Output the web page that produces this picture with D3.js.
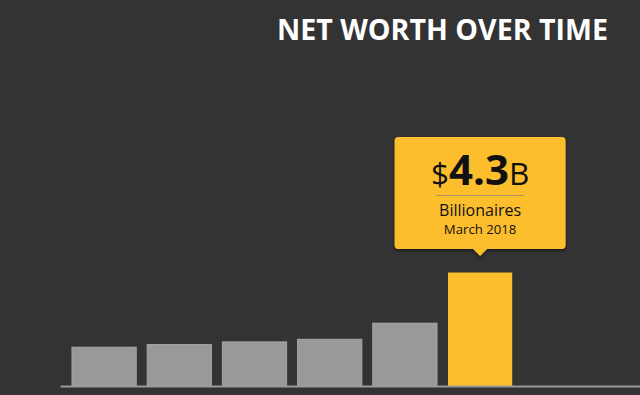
<!DOCTYPE html>
<html lang="en">
<head>
    <meta charset="UTF-8">
    <title>Net worth over time</title>
    <script src="https://d3js.org/d3.v7.min.js"></script>
    <style>
        html, body { margin: 0; padding: 0; background: #333333; }
        svg { display: block; font-family: "Open Sans", "DejaVu Sans", sans-serif; }
    </style>
</head>
<body>
<svg id="main" width="640" height="395" viewBox="0 0 640 395"></svg>
<script>
    // data (billions of dollars)
    const periods = ['2013', '2014', '2015', '2016', '2017', 'March 2018'];
    const netWorth = [1.47, 1.57, 1.67, 1.77, 2.38, 4.3];
    const highlight = 'March 2018';
    const calloutValue = '4.3';
    const calloutLabel = 'Billionaires';
    const calloutDate = 'March 2018';

    const yellow = '#fdbe2e';
    const grey = '#999999';

    let svg = d3.select('svg#main');

    // shadow for the callout
    svg.append('defs').append('filter')
        .attr('id', 'shadow')
        .attr('x', '-10%').attr('y', '-10%').attr('width', '120%').attr('height', '130%')
        .append('feDropShadow')
        .attr('dx', 0).attr('dy', 1.5)
        .attr('stdDeviation', 1.5)
        .attr('flood-color', '#000')
        .attr('flood-opacity', 0.55);

    svg.append('text')
        .attr('x', 608)
        .attr('y', 39.5)
        .attr('text-anchor', 'end')
        .attr('fill', '#ffffff')
        .attr('font-size', 28.6)
        .attr('font-weight', 700)
        .text('NET WORTH OVER TIME');

    // scales
    let xScale = d3.scaleBand()
        .domain(periods)
        .range([66.5, 517.7])
        .paddingInner(0.146)
        .paddingOuter(0.073);
    let yScale = d3.scaleLinear()
        .domain([0, 4.3])
        .range([386, 272.5]);

    let rows = periods.map((p, i) => ({period: p, value: netWorth[i]}));

    svg.append('g')
        .selectAll('rect')
        .data(rows)
        .enter()
        .append('rect')
        .attr('x', d => xScale(d.period))
        .attr('y', d => yScale(d.value))
        .attr('width', xScale.bandwidth())
        .attr('height', d => yScale(0) - yScale(d.value))
        .attr('fill', d => d.period === highlight ? yellow : grey)
        .attr('stroke', d => d.period === highlight ? 'none' : '#a8a8a8')
        .attr('stroke-width', 1);

    // baseline
    svg.append('line')
        .attr('x1', 60.5).attr('x2', 640)
        .attr('y1', yScale(0) + 0.5).attr('y2', yScale(0) + 0.5)
        .attr('stroke', '#9a9a9a')
        .attr('stroke-width', 2);

    // callout above the highlighted bar
    let hv = netWorth[periods.indexOf(highlight)];
    let cx = xScale(highlight) + xScale.bandwidth() / 2;
    let boxBottom = yScale(hv) - 23.5;
    let w = 171, h = 112, r = 4, tip = 7;
    let boxLeft = cx - w / 2, boxTop = boxBottom - h;

    let p = d3.path();
    p.moveTo(boxLeft + r, boxTop);
    p.lineTo(boxLeft + w - r, boxTop);
    p.arcTo(boxLeft + w, boxTop, boxLeft + w, boxTop + r, r);
    p.lineTo(boxLeft + w, boxBottom - r);
    p.arcTo(boxLeft + w, boxBottom, boxLeft + w - r, boxBottom, r);
    p.lineTo(cx + tip, boxBottom);
    p.lineTo(cx, boxBottom + tip);
    p.lineTo(cx - tip, boxBottom);
    p.lineTo(boxLeft + r, boxBottom);
    p.arcTo(boxLeft, boxBottom, boxLeft, boxBottom - r, r);
    p.lineTo(boxLeft, boxTop + r);
    p.arcTo(boxLeft, boxTop, boxLeft + r, boxTop, r);
    p.closePath();

    let callout = svg.append('g');
    callout.append('path')
        .attr('d', p.toString())
        .attr('fill', yellow)
        .attr('filter', 'url(#shadow)');

    let big = callout.append('text')
        .attr('x', cx)
        .attr('y', boxTop + 48)
        .attr('text-anchor', 'middle')
        .attr('fill', '#111111');
    big.append('tspan').attr('font-size', 31.5).text('$');
    big.append('tspan').attr('font-size', 42).attr('font-weight', 700).text(calloutValue);
    big.append('tspan').attr('font-size', 31.5).text('B');

    callout.append('line')
        .attr('x1', cx - 44.5).attr('x2', cx + 44.5)
        .attr('y1', boxTop + 58.5).attr('y2', boxTop + 58.5)
        .attr('stroke', '#a89564')
        .attr('stroke-width', 1);

    callout.append('text')
        .attr('x', cx)
        .attr('y', boxTop + 79)
        .attr('text-anchor', 'middle')
        .attr('fill', '#111111')
        .attr('font-size', 16)
        .text(calloutLabel);

    callout.append('text')
        .attr('x', cx)
        .attr('y', boxTop + 97)
        .attr('text-anchor', 'middle')
        .attr('fill', '#111111')
        .attr('font-size', 13.2)
        .text(calloutDate);
</script>
</body>
</html>
